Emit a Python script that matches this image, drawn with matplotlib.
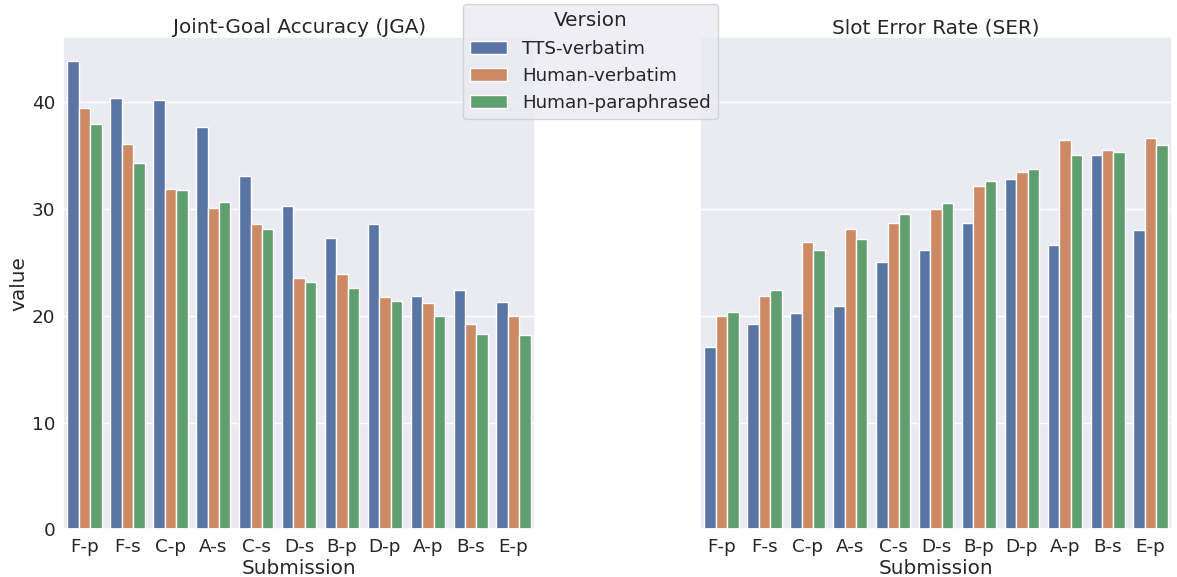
import matplotlib
matplotlib.use("Agg")
import matplotlib.pyplot as plt
import seaborn as sns
import pandas as pd

submissions = ["F-p", "F-s", "C-p", "A-s", "C-s", "D-s", "B-p", "D-p", "A-p", "B-s", "E-p"]
versions = ["TTS-verbatim", "Human-verbatim", "Human-paraphrased"]

jga_tts = [43.9, 40.4, 40.2, 37.7, 33.1, 30.3, 27.3, 28.6, 21.9, 22.4, 21.3]
jga_human = [39.5, 36.1, 31.9, 30.1, 28.6, 23.5, 23.9, 21.8, 21.2, 19.2, 20.0]
jga_para = [38.0, 34.3, 31.8, 30.7, 28.1, 23.2, 22.6, 21.4, 20.0, 18.3, 18.2]

ser_tts = [17.1, 19.2, 20.3, 20.9, 25.0, 26.2, 28.7, 32.8, 26.6, 35.1, 28.0]
ser_human = [20.0, 21.9, 26.9, 28.1, 28.7, 30.0, 32.2, 33.5, 36.5, 35.5, 36.7]
ser_para = [20.4, 22.4, 26.2, 27.2, 29.5, 30.6, 32.6, 33.8, 35.1, 35.3, 36.0]


def long_frame(series_list):
    rows = []
    for ver, vals in zip(versions, series_list):
        for sub, v in zip(submissions, vals):
            rows.append({"Submission": sub, "Version": ver, "value": v})
    return pd.DataFrame(rows)


df_jga = long_frame([jga_tts, jga_human, jga_para])
df_ser = long_frame([ser_tts, ser_human, ser_para])

sns.set_theme(style="darkgrid", font_scale=1.2)
plt.rcParams.update({
    "xtick.major.size": 0,
    "ytick.major.size": 0,
    "xtick.major.pad": 6.1,
    "ytick.major.pad": 5.8,
})

fig, axes = plt.subplots(1, 2, figsize=(11.77, 5.77), dpi=100, sharey=True)
fig.subplots_adjust(left=0.0537, right=0.9958, top=0.9354, bottom=0.0827, wspace=0.35)

sns.barplot(data=df_jga, x="Submission", y="value", hue="Version",
            order=submissions, hue_order=versions, ax=axes[0])
sns.barplot(data=df_ser, x="Submission", y="value", hue="Version",
            order=submissions, hue_order=versions, ax=axes[1])

axes[0].set_title("Joint-Goal Accuracy (JGA)", pad=3)
axes[1].set_title("Slot Error Rate (SER)", pad=3)
axes[1].set_ylabel("")
axes[0].set_xlabel("Submission", labelpad=2.5)
axes[1].set_xlabel("Submission", labelpad=2.5)
axes[0].set_ylabel("value", labelpad=2)

handles, labels = axes[0].get_legend_handles_labels()
for ax in axes:
    if ax.get_legend() is not None:
        ax.get_legend().remove()

fig.legend(handles, labels, title="Version", loc="upper center",
           bbox_to_anchor=(0.5017, 0.993), borderaxespad=0)

fig.savefig("out.png", dpi=100)
